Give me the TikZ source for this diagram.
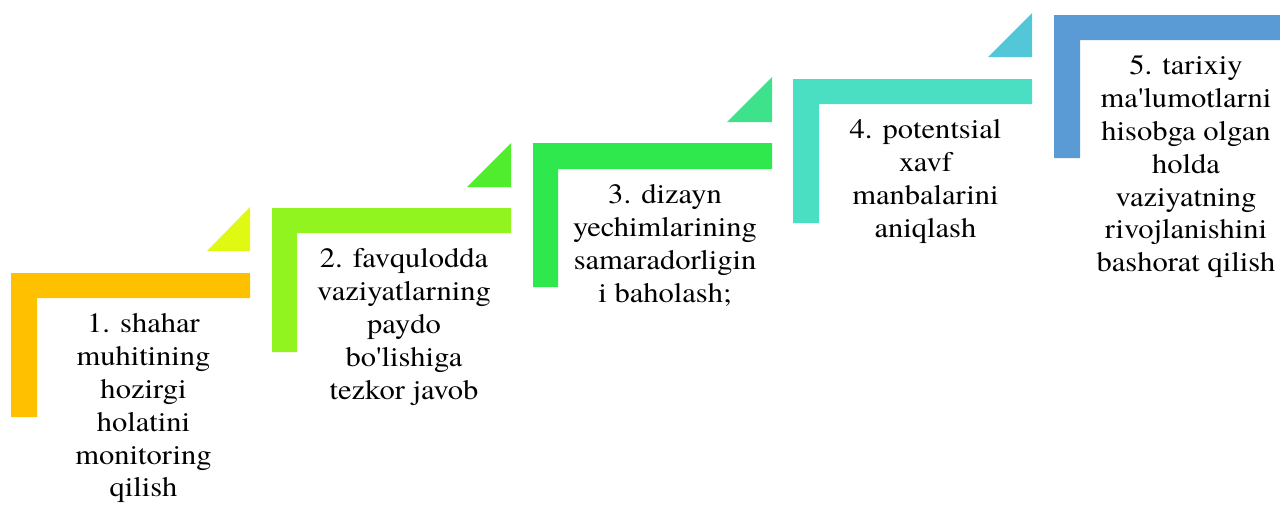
\documentclass[tikz,border=0pt]{standalone}
\usepackage{fontspec}
\newfontfamily\stepfont{texgyretermes-regular.otf}[FakeStretch=1.09]
\definecolor{barA}{HTML}{FFC000}
\definecolor{barB}{HTML}{92F41F}
\definecolor{barC}{HTML}{2EE84E}
\definecolor{barD}{HTML}{4ADFC3}
\definecolor{barE}{HTML}{5B9BD5}
\definecolor{triA}{HTML}{DFF912}
\definecolor{triB}{HTML}{50ED2E}
\definecolor{triC}{HTML}{3DE28A}
\definecolor{triD}{HTML}{53C6D8}
\tikzset{
  lbl/.style={anchor=north, inner sep=0pt, align=center,
    font=\stepfont\fontsize{28}{32.8}\selectfont, text=black}
}
\begin{document}
\begin{tikzpicture}[x=1pt,y=-1pt]
\useasboundingbox (0,0) rectangle (1280,504);
% stair brackets
\fill[barA] (11,273) -- (250,273) -- (250,298) -- (37,298) -- (37,417) -- (11,417) -- cycle;
\fill[barB] (272,208) -- (511,208) -- (511,233) -- (297,233) -- (297,352) -- (272,352) -- cycle;
\fill[barC] (533,143) -- (772,143) -- (772,169) -- (558,169) -- (558,287) -- (533,287) -- cycle;
\fill[barD] (793,79) -- (1032,79) -- (1032,104) -- (819,104) -- (819,223) -- (793,223) -- cycle;
\fill[barE] (1054,15) -- (1280,15) -- (1280,40) -- (1080,40) -- (1080,158) -- (1054,158) -- cycle;
% corner triangles
\fill[triA] (207,251) -- (250,251) -- (250,207) -- cycle;
\fill[triB] (467,187) -- (511,187) -- (511,143) -- cycle;
\fill[triC] (727,122) -- (772,122) -- (772,77) -- cycle;
\fill[triD] (988,57) -- (1032,57) -- (1032,13) -- cycle;
% labels
\node[lbl] (t1) at (143.5,313.6) {1. shahar\\muhitining\\hozirgi\\holatini\\monitoring\\qilish};
\node[lbl] (t2) at (404,248.6) {2. favqulodda\\vaziyatlarning\\paydo\\bo'lishiga\\tezkor javob};
\node[lbl] (t3) at (665,184.6) {3. dizayn\\yechimlarining\\samaradorligin\\i baholash;};
\node[lbl] (t4) at (925.5,119.6) {4. potentsial\\xavf\\manbalarini\\aniqlash};
\node[lbl] (t5) at (1186,55.4) {5. tarixiy\\ma'lumotlarni\\hisobga olgan\\holda\\vaziyatning\\rivojlanishini\\bashorat qilish};
\end{tikzpicture}
\end{document}
